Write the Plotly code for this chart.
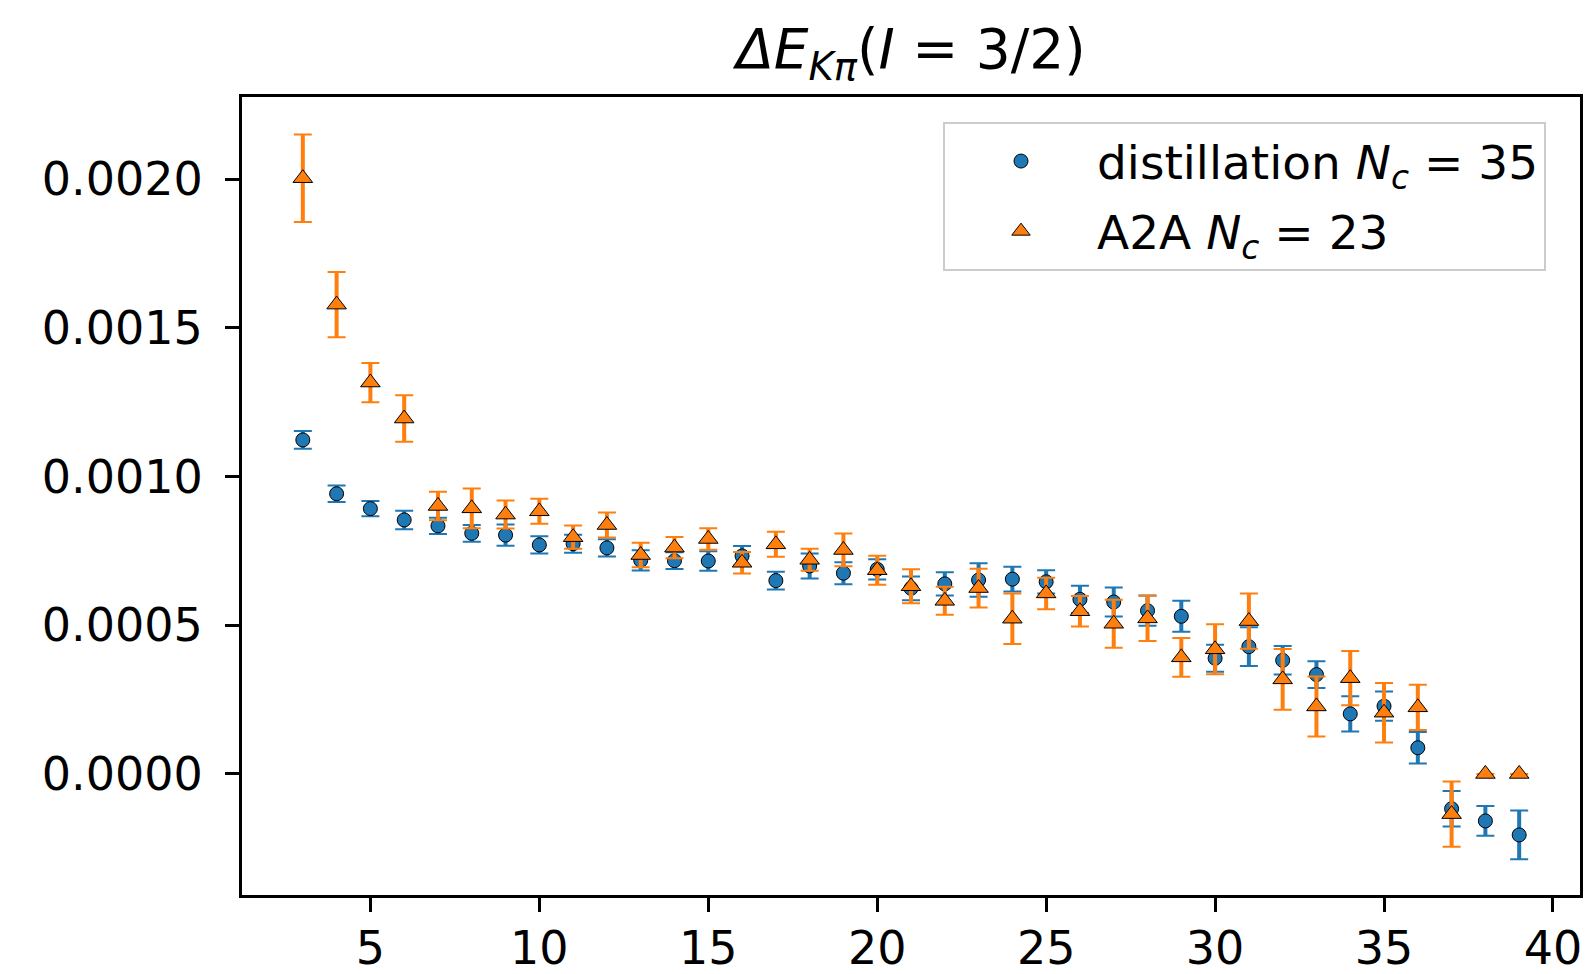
import plotly.graph_objects as go

# ---- data ----
n_values = list(range(3, 40))

dist_values = [0.001123, 0.000942, 0.000892, 0.000854, 0.000834, 0.000809, 0.000803, 0.000770,
               0.000774, 0.000760, 0.000718, 0.000717, 0.000716, 0.000733, 0.000650, 0.000699,
               0.000675, 0.000688, 0.000624, 0.000639, 0.000652, 0.000655, 0.000646, 0.000587,
               0.000578, 0.000549, 0.000530, 0.000389, 0.000428, 0.000382, 0.000334, 0.000202,
               0.000228, 0.000088, -0.000117, -0.000158, -0.000205]
dist_errors = [3.0e-5, 2.8e-5, 2.6e-5, 3.1e-5, 2.7e-5, 2.8e-5, 3.6e-5, 2.9e-5,
               3.0e-5, 2.9e-5, 3.4e-5, 2.8e-5, 3.3e-5, 3.3e-5, 3.0e-5, 4.2e-5,
               3.7e-5, 3.4e-5, 4.0e-5, 3.9e-5, 5.6e-5, 4.2e-5, 3.9e-5, 4.6e-5,
               4.9e-5, 5.1e-5, 5.2e-5, 4.5e-5, 6.5e-5, 4.8e-5, 4.5e-5, 5.9e-5,
               4.9e-5, 5.3e-5, 6.0e-5, 5.0e-5, 8.2e-5]

a2a_values = [0.002003, 0.001578, 0.001316, 0.001195, 0.000901, 0.000893, 0.000872, 0.000883,
              0.000796, 0.000837, 0.000736, 0.000761, 0.000790, 0.000710, 0.000772, 0.000720,
              0.000753, 0.000685, 0.000631, 0.000582, 0.000625, 0.000522, 0.000607, 0.000547,
              0.000505, 0.000523, 0.000392, 0.000419, 0.000514, 0.000318, 0.000227, 0.000322,
              0.000206, 0.000224, -0.000135, 0.0, 0.0]
a2a_errors = [1.47e-4, 1.10e-4, 6.6e-5, 7.8e-5, 4.8e-5, 6.7e-5, 4.7e-5, 4.2e-5,
              3.9e-5, 4.2e-5, 4.1e-5, 3.6e-5, 3.6e-5, 3.6e-5, 4.2e-5, 3.7e-5,
              5.5e-5, 4.9e-5, 5.7e-5, 4.7e-5, 6.5e-5, 8.5e-5, 5.3e-5, 5.1e-5,
              8.1e-5, 7.6e-5, 6.5e-5, 8.4e-5, 9.3e-5, 1.02e-4, 1.01e-4, 9.1e-5,
              1.0e-4, 7.6e-5, 1.1e-4, 0.0, 0.0]

x_ticks = [5, 10, 15, 20, 25, 30, 35, 40]
y_ticks = [0.0, 0.0005, 0.0010, 0.0015, 0.0020]
y_tick_labels = ["0.0000", "0.0005", "0.0010", "0.0015", "0.0020"]

series_names = ["distillation <i>N</i><sub><i>c</i></sub> = 35", "A2A <i>N</i><sub><i>c</i></sub> = 23"]
title_text = "<i>ΔE</i><sub><i>Kπ</i></sub>(<i>I</i> = 3/2)"

BLUE = "#1f77b4"
ORANGE = "#ff7f0e"
FONT = "DejaVu Sans"

fig = go.Figure()

def add_series(xs, ys, errs, color, symbol, size, name, group):
    # thin bars with caps
    fig.add_trace(go.Scatter(
        x=xs, y=ys, mode="markers",
        marker=dict(size=1, color="rgba(0,0,0,0)"),
        error_y=dict(type="data", array=errs, visible=True, color=color, thickness=2, width=9),
        showlegend=False, hoverinfo="skip", legendgroup=group))
    # thick bars + markers
    fig.add_trace(go.Scatter(
        x=xs, y=ys, mode="markers", name=name, legendgroup=group,
        marker=dict(size=size, color=color, symbol=symbol, line=dict(color="black", width=1)),
        error_y=dict(type="data", array=errs, visible=True, color=color, thickness=4, width=0)))

add_series(n_values, dist_values, dist_errors, BLUE, "circle", 14, series_names[0], "g1")
add_series(n_values, a2a_values, a2a_errors, ORANGE, "triangle-up", 17, series_names[1], "g2")

W, H = 1593, 974
L, R, T, B = 242, 1580, 97, 895

fig.update_layout(
    width=W, height=H,
    margin=dict(l=L, r=W - R, t=T, b=H - B, autoexpand=False),
    paper_bgcolor="white", plot_bgcolor="white",
    font=dict(family=FONT, size=46, color="black"),
    title=dict(text=title_text, x=(L + R) / 2 / W, xanchor="center", xref="container",
               y=1 - 49 / H, yanchor="middle", yref="container",
               font=dict(family=FONT, size=55, color="black")),
    legend=dict(x=(1546 - L) / (R - L), xanchor="right", y=(B - 122) / (B - T), yanchor="top",
                bgcolor="rgba(255,255,255,0.8)", bordercolor="#cccccc", borderwidth=2,
                font=dict(family=FONT, size=47, color="black"),
                tracegroupgap=6, itemwidth=142),
    showlegend=True,
)
fig.update_xaxes(range=[1.2, 40.8], tickvals=x_ticks, ticks="outside", ticklen=14, tickwidth=3,
                 tickcolor="black", showline=True, linecolor="black", linewidth=3, mirror=True,
                 showgrid=False, zeroline=False, ticklabelstandoff=-3,
                 tickfont=dict(family=FONT, size=46, color="black"))
fig.update_yaxes(range=[-0.000407, 0.002276], tickvals=y_ticks, ticktext=y_tick_labels,
                 ticks="outside", ticklen=14, tickwidth=3, tickcolor="black",
                 showline=True, linecolor="black", linewidth=3, mirror=True,
                 showgrid=False, zeroline=False, ticklabelstandoff=13,
                 tickfont=dict(family=FONT, size=46, color="black"))

fig.write_html("out.html")
